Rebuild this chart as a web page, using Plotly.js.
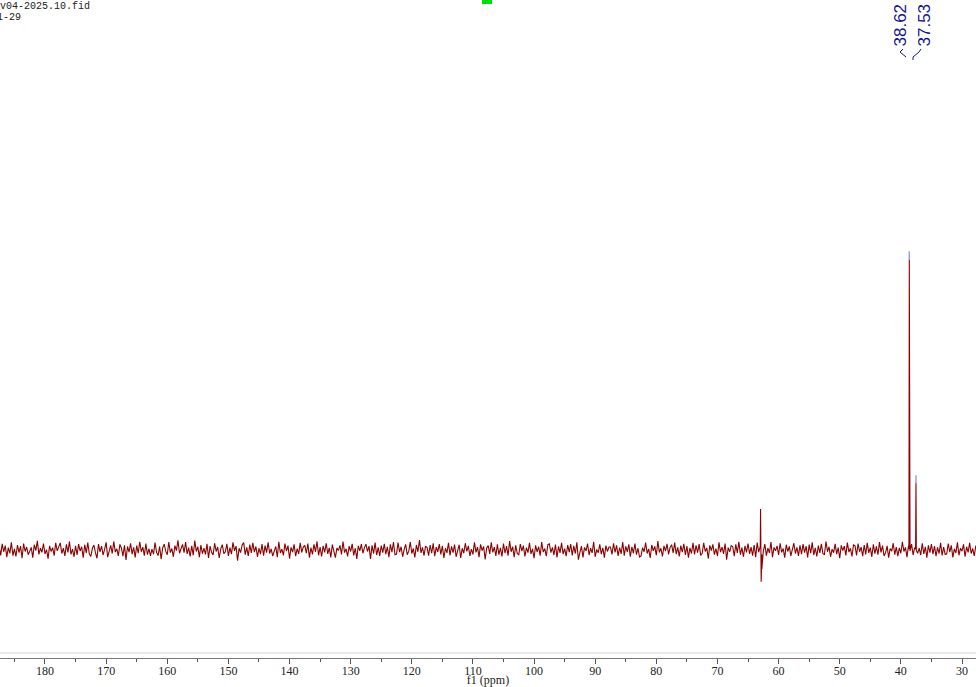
<!DOCTYPE html>
<html>
<head>
<meta charset="utf-8">
<script src="https://cdn.plot.ly/plotly-3.0.1.min.js"></script>
<style>html,body{margin:0;padding:0;background:#fff;}#chart{width:976px;height:687px;}</style>
</head>
<body>
<div id="chart"></div>
<script>
// ---- data ----
// noise baseline sampled every 0.25 ppm from 187.5 ppm downward (values estimated by eye)
const noiseStartPpm = 187.5;
const noiseStepPpm = 0.25;
const noiseValues = [
 1.2,-1.8,2.1,-0.6,1.5,-2.4,0.8,-1.1,2.6,-1.9,0.4,-2.2,1.7,-0.9,1.3,-2.8,2.2,-0.5,1.0,-1.6,
 -0.4,0.9,-2.6,1.8,-0.2,3.1,-1.5,0.6,-0.8,2.2,-1.3,0.1,-2.9,1.4,-0.5,0.8,-1.9,2.4,-0.3,1.1,
 2.4,-1.2,0.6,-2.0,1.9,-0.8,2.9,-1.5,0.3,-2.3,1.4,-1.7,2.0,-0.4,1.1,-2.6,1.8,-1.0,2.5,-1.3,
 -2.2,0.5,1.7,-0.9,-2.8,2.0,-0.6,1.3,-1.7,0.2,2.6,-2.4,-0.1,1.6,-1.2,2.9,-0.7,0.4,-2.0,1.9,
 0.7,-2.1,1.6,-3.4,1.2,-0.7,2.3,-1.4,0.9,-2.5,1.5,-1.1,2.8,-0.6,1.0,-1.9,2.2,-1.6,0.5,-2.0,
 0.3,-1.4,2.5,-0.8,-1.9,1.2,-3.1,0.7,2.0,-0.4,-1.6,2.7,-0.9,0.5,-2.3,1.5,-0.2,3.3,-1.1,0.9,
 1.9,-0.9,2.7,-1.3,0.8,-2.2,1.4,-1.8,3.2,-0.5,1.1,-2.4,1.7,-1.2,0.6,-1.5,2.1,-2.7,1.3,-0.8,
 -1.7,2.3,-0.5,1.0,-2.7,0.4,1.8,-1.2,-0.6,2.1,-2.0,0.8,-1.4,2.6,-0.3,1.3,-3.6,0.6,-0.9,1.7,
 2.5,-1.6,0.9,-2.0,1.8,-1.0,2.4,-0.7,1.2,-2.3,0.6,-1.4,2.0,-1.9,1.5,-0.9,2.6,-1.2,0.4,-2.1,
 -0.6,1.2,-2.4,2.8,-1.0,0.3,-1.8,2.2,-0.4,1.5,-2.9,0.9,-0.7,1.9,-2.1,0.5,-1.3,2.4,-0.8,1.0,
 1.6,-1.1,2.2,-2.6,0.8,-1.5,1.9,-0.6,2.9,-1.8,1.0,-2.2,1.4,-0.8,2.3,-1.3,0.7,-2.5,1.8,-1.0,
 -2.6,0.7,-0.2,1.6,-1.5,2.9,-0.9,0.4,-2.2,1.3,-0.5,2.1,-1.8,0.6,-3.0,1.4,-0.3,2.0,-1.1,0.8,
 2.0,-0.5,1.3,-3.0,1.6,-1.2,2.5,-1.7,0.9,-2.0,1.5,-0.9,2.1,-1.4,1.1,-2.4,1.9,-0.7,2.7,-1.6,
 -1.4,2.5,-0.7,1.1,-2.3,0.2,1.9,-1.6,-0.4,2.7,-1.2,0.5,-2.5,1.7,-0.6,3.4,-1.0,0.9,-1.9,1.3,
 0.8,-1.9,1.7,-1.1,2.3,-2.1,1.0,-0.6,2.0,-1.5,1.4,-2.7,0.6,-1.0,2.4,-1.8,1.2,-0.9,1.8,-2.3,
 -0.3,1.8,-2.7,0.6,-1.1,2.3,-0.5,1.4,-2.0,0.3,-1.5,2.6,-0.8,1.0,-2.4,1.9,-0.2,1.2,-3.2,0.7,
 1.5,-1.3,2.6,-0.8,1.0,-2.0,1.9,-1.6,0.7,-2.2,2.2,-1.1,1.3,-1.9,3.0,-0.6,1.1,-2.4,1.6,-1.2,
 -1.6,2.0,-0.4,1.5,-2.2,0.8,-0.9,2.4,-1.3,0.4,-2.8,1.6,-0.6,1.1,-1.9,2.7,-0.7,0.5,-2.1,1.8,
 2.1,-0.9,0.9,-1.7,1.8,-2.5,1.2,-1.0,2.4,-1.4,0.5,-2.1,1.7,-0.7,2.0,-1.8,1.4,-1.2,2.6,-3.3,
 -0.8,1.3,-2.5,0.9,-0.3,2.2,-1.7,0.6,-1.0,2.8,-2.3,0.2,-0.9,1.9,-1.4,0.7,-2.6,1.5,-0.5,1.0,
 1.0,-1.5,2.3,-0.8,1.6,-2.0,0.8,-1.3,2.7,-1.9,1.2,-0.6,1.9,-2.3,1.1,-1.1,2.2,-1.6,0.6,-2.4,
 -2.0,0.8,-0.6,2.5,-1.2,0.4,-2.7,1.7,-0.3,1.2,-1.8,3.0,-0.8,0.6,-2.2,1.4,-0.4,2.1,-1.5,0.9,
 1.8,-1.0,2.5,-1.4,0.9,-2.2,1.5,-0.7,2.1,-1.7,1.3,-2.6,0.7,-1.2,2.4,-1.5,1.6,-0.9,2.0,-1.8,
 -1.1,2.4,-0.5,0.7,-2.9,1.6,-0.2,1.9,-1.6,0.5,-2.1,2.6,-0.7,1.0,-1.3,2.2,-3.3,0.8,-0.6,1.5,
 1.1,-2.1,1.9,-1.0,2.8,-1.6,0.8,-2.3,1.4,-0.8,2.2,-1.3,1.0,-1.9,1.7,-2.4,2.5,-0.7,1.2,-1.5,
 -0.4,2.0,-1.9,0.6,-1.0,2.7,-2.4,0.9,-0.3,1.4,-1.7,2.3,-0.8,0.5,-2.6,1.8,-0.5,1.2,-2.0,0.7,
 2.3,-1.2,0.9,-2.0,1.6,-1.4,2.0,-0.9,1.3,-2.5,1.8,-1.1,2.6,-1.7,0.7,-2.2,1.5,-1.0,2.1,-1.3,
 -1.5,2.9,-0.6,1.1,-2.3,0.3,-0.9,2.1,-1.4,0.8,-2.8,1.6,-0.2,1.3,-1.8,2.5,-0.7,0.6,-2.2,1.7,
 1.4,-1.8,2.2,-0.6,1.0,-2.1,1.7,-1.5,2.4,-1.0,0.8,-2.3,1.9,-1.2,1.2,-1.6,2.7,-0.8,1.5,-2.0,
 -0.9,1.4,-2.6,0.5,-0.4,2.3,-1.6,1.0,-2.1,0.7,-1.1,2.8,-0.5,0.9,-2.4,1.5,-0.3,2.0,-1.7,0.8,
 1.9,-1.1,0.6,-1.7,2.3,-1.3,1.1,-2.6,1.6,-0.9,2.0,-1.4,1.3,-2.1,0.9,-1.2,2.4,-1.8,1.0,-1.5,
 -1.3,2.2,-0.7,1.6,-2.5,0.4,-1.0,2.6,-1.8,0.6,-0.4,1.9,-2.3,1.1,-0.8,2.4,-1.2,0.5,-2.0,1.3,
 1.7
];
// sharp peaks (ppm, height relative to tallest ≈ 100)
const peakPpm = [38.62, 37.53];
const peakHeight = [98.6, 22.7];
const peakLabels = ["38.62", "37.53"];
// dispersive artefact near 63 ppm
const artefactPpm = [62.95, 62.85, 62.75];
const artefactValue = [13.9, -10.8, -6.5];

// tick labels
const tickVals = [180,170,160,150,140,130,120,110,100,90,80,70,60,50,40,30];
const tickText = tickVals.map(String);

// ---- build spectrum ----
const pts = [];
noiseValues.forEach((v, i) => pts.push([noiseStartPpm - i * noiseStepPpm, v]));
peakPpm.forEach((p, i) => {
  pts.push([p + 0.06, 0.3]);
  pts.push([p, peakHeight[i]]);
  pts.push([p - 0.06, -0.2]);
});
artefactPpm.forEach((p, i) => pts.push([p, artefactValue[i]]));
pts.sort((a, b) => b[0] - a[0]);
const specX = pts.map(p => p[0]);
const specY = pts.map(p => p[1]);

const W = 976, H = 658; // plot area in px
const px = x => x / W;
const py = y => 1 - y / H;

const traces = [
  {x: specX, y: specY, type: 'scatter', mode: 'lines',
   line: {color: '#8b0000', width: 1.1}, hoverinfo: 'skip'},
  {x: peakPpm, y: peakHeight.map(h => h + 1.2), type: 'scatter', mode: 'markers',
   marker: {symbol: 'line-ns', size: 6, line: {color: '#8fa3d6', width: 1.5}}, hoverinfo: 'skip'}
];

const labelX = [900, 924];
const annotations = peakLabels.map((t, i) => ({
  text: t, xref: 'paper', yref: 'paper', x: px(labelX[i]), y: 1, yshift: -2,
  xanchor: 'center', yanchor: 'top', textangle: -90, showarrow: false,
  font: {family: 'Liberation Sans, Arial, sans-serif', size: 17, color: '#16168c'}
}));
annotations.push(
  {text: 'Nov04-2025.10.fid', xref: 'paper', yref: 'paper', x: 0, y: 1, xshift: -14, yshift: 1,
   xanchor: 'left', yanchor: 'top', showarrow: false,
   font: {family: 'Liberation Mono, monospace', size: 10, color: '#222'}},
  {text: '11-29', xref: 'paper', yref: 'paper', x: 0, y: 1, xshift: -11, yshift: -10,
   xanchor: 'left', yanchor: 'top', showarrow: false,
   font: {family: 'Liberation Mono, monospace', size: 10, color: '#222'}}
);

const pathOf = arr => 'M ' + arr.map(p => px(p[0]) + ',' + py(p[1])).join(' L ');
const shapes = [
  {type: 'path', xref: 'paper', yref: 'paper', path: pathOf([[903,49],[900,52],[906,57]]),
   line: {color: '#16168c', width: 1}},
  {type: 'path', xref: 'paper', yref: 'paper', path: pathOf([[921,49],[919,52],[913,57],[913,60]]),
   line: {color: '#16168c', width: 1}},
  {type: 'line', xref: 'paper', yref: 'paper', x0: 0, x1: 1, y0: py(653), y1: py(653),
   line: {color: '#d4d4d4', width: 1}},
  {type: 'rect', xref: 'paper', yref: 'paper', x0: px(482), x1: px(492), y0: py(4), y1: 1,
   fillcolor: '#00e000', line: {width: 0}}
];

const layout = {
  width: 976, height: 687,
  margin: {l: 0, r: 0, t: 0, b: 29, pad: 0},
  paper_bgcolor: '#fff', plot_bgcolor: '#fff',
  showlegend: false,
  xaxis: {
    range: [187.36, 27.71], autorange: false,
    tickvals: tickVals, ticktext: tickText,
    ticks: 'outside', ticklen: 5, tickwidth: 1, tickcolor: '#555',
    ticklabelstandoff: -3,
    minor: {dtick: 5, tick0: 0, ticks: 'outside', ticklen: 3, tickcolor: '#555', showgrid: false},
    showline: true, linecolor: '#777', linewidth: 1,
    showgrid: false, zeroline: false,
    tickfont: {family: 'Liberation Serif, serif', size: 12, color: '#222'},
    title: {text: 'f1 (ppm)', standoff: 3, font: {family: 'Liberation Serif, serif', size: 12, color: '#222'}},
    automargin: false
  },
  yaxis: {range: [-36.61, 186.44], visible: false, showgrid: false, zeroline: false, fixedrange: true},
  annotations: annotations,
  shapes: shapes
};

Plotly.newPlot('chart', traces, layout, {staticPlot: true, displayModeBar: false});
</script>
</body>
</html>
